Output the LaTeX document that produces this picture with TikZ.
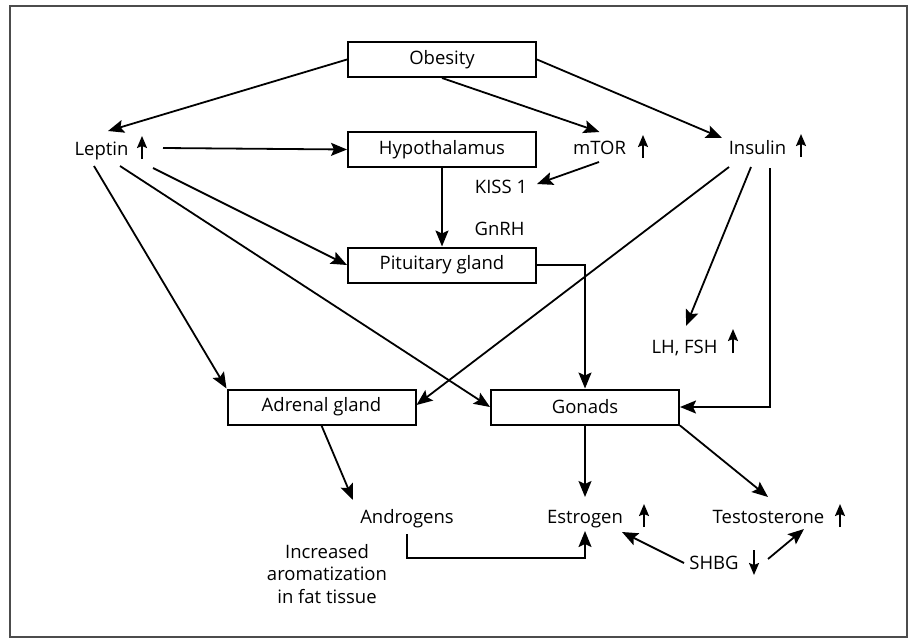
\documentclass[tikz,border=0pt]{standalone}
\usepackage{fontspec}
\setmainfont{Open Sans}
\usetikzlibrary{arrows.meta}
\begin{document}
\begin{tikzpicture}[x=1pt,y=-1pt,
  txt/.style={font=\fontsize{18.5}{22.5}\selectfont},
  box/.style={txt, draw, line width=2pt, minimum width=188pt, minimum height=35pt, inner sep=0pt},
  lbl/.style={txt, inner sep=0pt, anchor=base},
  arr/.style={line width=1.8pt, -{Stealth[length=16pt,width=13pt,inset=3pt]}},
  updown/.style={line width=1.8pt, -{Stealth[length=12pt,width=10pt,inset=2pt]}},
  frame/.style={draw=black!70, line width=1.2pt}
  ]
\useasboundingbox (0,0) rectangle (912,640);
\draw[frame] (10,6) rectangle (907,637);

% boxes
\node[box] (obesity) at (442,59.5) {Obesity};
\node[box] (hypo) at (442,149.5) {Hypothalamus};
\node[box] (pit) at (442,265) {Pituitary gland};
\node[box] (adrenal) at (321.5,407) {Adrenal gland};
\node[box] (gonads) at (585,407) {Gonads};

% labels
\node[lbl] (leptin) at (101.5,155) {Leptin};
\node[lbl] (mtor) at (599.5,154) {mTOR};
\node[lbl] (insulin) at (757.5,154) {Insulin};
\node[lbl] (kiss) at (501,193) {KISS 1};
\node[lbl] (gnrh) at (499.5,235) {GnRH};
\node[lbl] (lhfsh) at (684.5,353) {LH, FSH};
\node[lbl] (androgens) at (407,523) {Androgens};
\node[lbl] (estrogen) at (585,523) {Estrogen};
\node[lbl] (testo) at (768.5,523) {Testosterone};
\node[lbl] (shbg) at (714,569) {SHBG};
\node[lbl, align=center] (arom) at (327,603) {Increased\\aromatization\\in fat tissue};

% small up/down arrows
\draw[updown] ([shift={(40.5,4)}]leptin.base) -- ([shift={(40.5,-19)}]leptin.base);
\draw[updown] ([shift={(43.5,4)}]mtor.base) -- ([shift={(43.5,-19)}]mtor.base);
\draw[updown] ([shift={(43.5,3)}]insulin.base) -- ([shift={(43.5,-20)}]insulin.base);
\draw[updown] ([shift={(48.5,0)}]lhfsh.base) -- ([shift={(48.5,-24)}]lhfsh.base);
\draw[updown] ([shift={(59,4)}]estrogen.base) -- ([shift={(59,-19)}]estrogen.base);
\draw[updown] ([shift={(71.5,4)}]testo.base) -- ([shift={(71.5,-19)}]testo.base);
\draw[updown] ([shift={(40,-19)}]shbg.base) -- ([shift={(40,6)}]shbg.base);

% connectors
\draw[arr] (obesity.west) -- ([shift={(6.5,-24)}]leptin.base);
\draw[arr] (obesity.south) -- ([shift={(0,-22)}]mtor.base);
\draw[arr] (obesity.east) -- ([shift={(-35.5,-16)}]insulin.base);
\draw[arr] ([shift={(61.5,-7)}]leptin.base) -- (hypo.west);
\draw[arr] ([shift={(51.5,13)}]leptin.base) -- (pit.west);
\draw[arr] ([shift={(18.5,11)}]leptin.base) -- (gonads.west);
\draw[arr] ([shift={(-7.5,11)}]leptin.base) -- (adrenal.north west);
\draw[arr] ([shift={(-0.5,8)}]mtor.base) -- ([shift={(36,-9)}]kiss.base);
\draw[arr] (hypo.south) -- (pit.north);
\draw[arr] (pit.east) -| (gonads.north);
\draw[arr] ([shift={(-28.5,13)}]insulin.base) -- ([shift={(0,-2)}]adrenal.east);
\draw[arr] ([shift={(-6.5,13)}]insulin.base) -- ([shift={(1.5,-27)}]lhfsh.base);
\draw[arr] ([shift={(12.5,14)}]insulin.base) |- (gonads.east);
\draw[arr] (adrenal.south) -- ([shift={(-54,-23)}]androgens.base);
\draw[arr] (gonads.south) -- ([shift={(0,-26)}]estrogen.base);
\draw[arr] (gonads.south east) -- ([shift={(-0.5,-26)}]testo.base);
\draw[arr] ([shift={(0,11)}]androgens.base) -- ++(0,24) -| ([shift={(0,8)}]estrogen.base);
\draw[arr] ([shift={(-30,-6)}]shbg.base) -- ([shift={(37,9)}]estrogen.base);
\draw[arr] ([shift={(54,-10)}]shbg.base) -- ([shift={(35.5,6)}]testo.base);
\end{tikzpicture}
\end{document}
